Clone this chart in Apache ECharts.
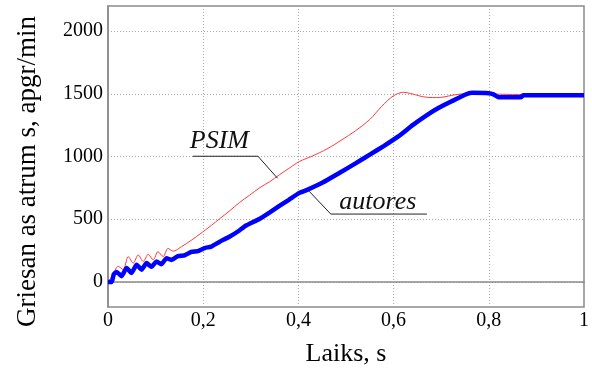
<!DOCTYPE html>
<html>
<head>
<meta charset="utf-8">
<script src="https://cdn.jsdelivr.net/npm/echarts@6/dist/echarts.min.js"></script>
<style>
html,body{margin:0;padding:0;background:#fff;}
#c{width:592px;height:372px;}
</style>
</head>
<body>
<div id="c"></div>
<script>
// Time axis (s) and values (apgr/min)
const psimT = [0, 0.008, 0.0216, 0.032, 0.0425, 0.053, 0.0635, 0.074, 0.0844, 0.095, 0.105, 0.116, 0.126, 0.137, 0.154, 0.175, 0.196, 0.217, 0.234, 0.255, 0.276, 0.297, 0.318, 0.34, 0.36, 0.38, 0.402, 0.43, 0.46, 0.49, 0.52, 0.55, 0.575, 0.60, 0.621, 0.635, 0.646, 0.66, 0.674, 0.69, 0.701, 0.715, 0.729, 0.75, 0.77, 0.8, 0.85, 0.9, 1.0];
const psimV = [0, 40, 124, 98, 202, 150, 215, 163, 220, 176, 241, 202, 267, 245, 280, 332, 390, 450, 502, 565, 632, 690, 749, 800, 854, 905, 960, 1005, 1060, 1130, 1205, 1295, 1400, 1485, 1512, 1503, 1492, 1478, 1471, 1470, 1472, 1482, 1492, 1500, 1500, 1498, 1495, 1493, 1493];

const autT = [0, 0.008, 0.012, 0.018, 0.0286, 0.039, 0.0495, 0.060, 0.0704, 0.081, 0.0914, 0.102, 0.112, 0.123, 0.133, 0.147, 0.161, 0.175, 0.189, 0.203, 0.217, 0.234, 0.255, 0.276, 0.29, 0.318, 0.34, 0.36, 0.38, 0.402, 0.416, 0.45, 0.485, 0.52, 0.55, 0.58, 0.61, 0.64, 0.67, 0.695, 0.722, 0.75, 0.764, 0.8, 0.81, 0.82, 0.868, 0.872, 1.0];
const autV = [0, 0, 60, 80, 46, 111, 72, 137, 98, 150, 120, 163, 140, 189, 175, 205, 212, 240, 246, 270, 282, 319, 360, 410, 450, 502, 555, 606, 655, 710, 730, 790, 866, 945, 1015, 1085, 1160, 1250, 1330, 1388, 1440, 1492, 1508, 1505, 1495, 1473, 1473, 1488, 1488];

const yTicks = [0, 500, 1000, 1500, 2000];
const xTicks = [0, 0.2, 0.4, 0.6, 0.8, 1];

const seriesNames = ['PSIM', 'autores'];
const yName = 'Griesan as atrum s, apgr/min';
const xName = 'Laiks, s';

const zip = (a, b) => a.map((t, i) => [t, b[i]]);

const chart = echarts.init(document.getElementById('c'), null, {renderer: 'canvas'});
const serif = '"Liberation Serif", "Times New Roman", serif';
const gridStyle = {type: [1, 2], color: '#a8a8a8', width: 1};

chart.setOption({
  animation: false,
  backgroundColor: '#fff',
  grid: {left: 108, top: 6, right: 5, bottom: 59, show: true, borderColor: '#8a8a8a', borderWidth: 1.5, containLabel: false},
  xAxis: {
    type: 'value', min: 0, max: 1, interval: 0.2,
    name: xName, nameLocation: 'middle', nameGap: 34,
    nameTextStyle: {fontFamily: serif, fontSize: 26, color: '#000'},
    axisLine: {show: true, lineStyle: {color: '#8a8a8a', width: 1.5}},
    axisTick: {show: false},
    axisLabel: {fontFamily: serif, fontSize: 20, color: '#000', margin: 4,
      formatter: v => String(+v.toFixed(1)).replace('.', ',')},
    splitLine: {show: true, lineStyle: gridStyle}
  },
  yAxis: {
    type: 'value', min: -200, max: 2200,
    name: yName, nameLocation: 'middle', nameGap: 67, nameRotate: 90,
    nameTextStyle: {fontFamily: serif, fontSize: 27, color: '#000', padding: [0, 30, 0, 0]},
    axisLine: {show: true, lineStyle: {color: '#8a8a8a', width: 1.5}},
    axisTick: {show: false, customValues: yTicks},
    axisLabel: {fontFamily: serif, fontSize: 20, color: '#000', margin: 5, customValues: yTicks,
      formatter: v => String(v)},
    splitLine: {show: true, lineStyle: gridStyle}
  },
  series: [
    {name: seriesNames[0], type: 'line', data: zip(psimT, psimV), showSymbol: false, smooth: 0.3,
      lineStyle: {color: '#ff3a3a', width: 1}, z: 2},
    {name: seriesNames[1], type: 'line', data: zip(autT, autV), showSymbol: false, smooth: 0.15,
      lineStyle: {color: '#0000ff', width: 4.5}, z: 3}
  ]
});

// annotation anchors (data coordinates)
const p = (t, v) => chart.convertToPixel({gridIndex: 0}, [t, v]);
const psimTxt = p(0.234, 1122), psimA = p(0.178, 1002), psimB = p(0.315, 1002), psimC = p(0.356, 827);
const autTxt = p(0.567, 637), autA = p(0.670, 541), autB = p(0.468, 541), autC = p(0.4226, 723);
const lineSt = {stroke: '#222', lineWidth: 1};
const txtSt = (x, y, s) => ({type: 'text', x: x, y: y, style: {text: s, fontFamily: serif, fontStyle: 'italic', fontSize: 26, fill: '#111', textAlign: 'center', textVerticalAlign: 'middle'}, z: 10});
chart.setOption({
  graphic: [
    txtSt(psimTxt[0], psimTxt[1], seriesNames[0]),
    {type: 'polyline', shape: {points: [psimA, psimB, psimC]}, style: lineSt, z: 10},
    txtSt(autTxt[0], autTxt[1], seriesNames[1]),
    {type: 'polyline', shape: {points: [autA, autB, autC]}, style: lineSt, z: 10}
  ]
});
</script>
</body>
</html>
